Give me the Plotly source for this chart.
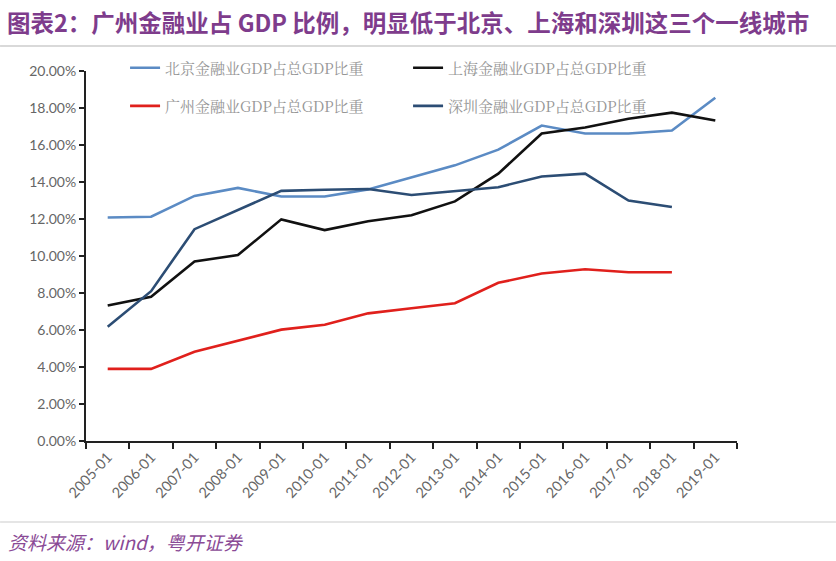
import plotly.graph_objects as go

years = ["2005-01", "2006-01", "2007-01", "2008-01", "2009-01", "2010-01", "2011-01",
         "2012-01", "2013-01", "2014-01", "2015-01", "2016-01", "2017-01", "2018-01", "2019-01"]

beijing = [12.08, 12.12, 13.25, 13.68, 13.22, 13.22, 13.60, 14.25, 14.90, 15.75, 17.05,
           16.62, 16.62, 16.78, 18.55]
shanghai = [7.32, 7.80, 9.70, 10.05, 11.98, 11.40, 11.88, 12.20, 12.95, 14.45, 16.62,
            16.95, 17.42, 17.75, 17.32]
guangzhou = [3.90, 3.90, 4.82, 5.42, 6.02, 6.28, 6.90, 7.18, 7.45, 8.55, 9.05, 9.28,
             9.12, 9.12, None]
shenzhen = [6.18, 8.10, 11.45, 12.50, 13.52, 13.58, 13.62, 13.30, 13.50, 13.72, 14.30,
            14.45, 13.00, 12.65, None]

names = ["北京金融业GDP占总GDP比重", "上海金融业GDP占总GDP比重",
         "广州金融业GDP占总GDP比重", "深圳金融业GDP占总GDP比重"]
colors = ["#5B8BC4", "#111111", "#E0201C", "#2C4D74"]
legend_ids = ["legend", "legend", "legend2", "legend2"]
series = [beijing, shanghai, guangzhou, shenzhen]

fig = go.Figure()
for nm, col, lg, vals in zip(names, colors, legend_ids, series):
    fig.add_trace(go.Scatter(
        x=years, y=[v / 100 if v is not None else None for v in vals],
        mode="lines", name=nm, line=dict(color=col, width=2.6),
        connectgaps=False, legend=lg))

legend_style = dict(orientation="h", xanchor="left", yanchor="middle",
                    entrywidth=238, entrywidthmode="pixels",
                    font=dict(family="Noto Serif CJK SC, Noto Sans CJK SC", size=15, color="#969696"),
                    bgcolor="rgba(0,0,0,0)", itemwidth=30)

fig.update_layout(
    width=836, height=561,
    margin=dict(l=86, r=99, t=71, b=120),
    paper_bgcolor="white", plot_bgcolor="white",
    showlegend=True,
    legend=dict(x=0.06, y=1.008, **legend_style),
    legend2=dict(x=0.06, y=0.905, **legend_style),
    font=dict(family="Lato, Noto Sans CJK SC", color="#666666"),
)

fig.update_xaxes(
    type="category", tickangle=-47, tickson="boundaries",
    showline=True, linecolor="#222222", linewidth=2,
    ticks="outside", ticklen=6, tickwidth=1.5, tickcolor="#222222",
    showgrid=False, tickfont=dict(family="Lato", size=14.5, color="#666666"),
    range=[-0.5, 14.5])
fig.update_yaxes(
    range=[0, 0.20], dtick=0.02, tickformat=".2%",
    showline=True, linecolor="#222222", linewidth=2,
    ticks="outside", ticklen=5, tickwidth=1.5, tickcolor="#222222",
    showgrid=False, zeroline=False,
    tickfont=dict(family="Lato", size=14, color="#666666"))

# title and footer
fig.add_annotation(text="<b>图表2：广州金融业占 GDP 比例，明显低于北京、上海和深圳这三个一线城市</b>",
                   xref="paper", yref="paper", x=-0.125, y=1.0, xanchor="left", yanchor="middle",
                   yshift=49, showarrow=False,
                   font=dict(family="Noto Sans CJK SC", size=23.5, color="#7E3C8C"))
fig.add_annotation(text="<i>资料来源：wind，粤开证券</i>",
                   xref="paper", yref="paper", x=-0.123, y=0, xanchor="left", yanchor="middle",
                   yshift=-100, showarrow=False,
                   font=dict(family="Noto Sans CJK SC", size=19, color="#8A4A96"))
fig.add_shape(type="line", xref="paper", yref="paper", x0=-0.132, x1=1.152, y0=1.0676, y1=1.0676,
              line=dict(color="#cccccc", width=1.5))
fig.add_shape(type="line", xref="paper", yref="paper", x0=-0.132, x1=1.152, y0=-0.219, y1=-0.219,
              line=dict(color="#dddddd", width=1.5))

fig.write_html("out.html")
